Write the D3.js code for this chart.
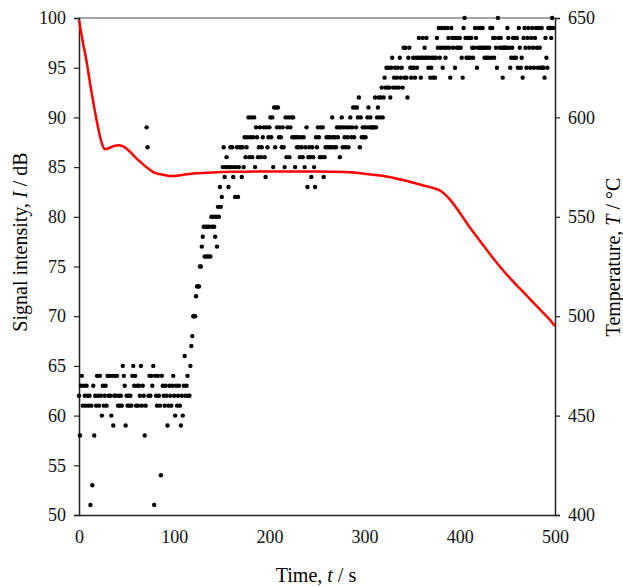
<!DOCTYPE html>
<html>
<head>
<meta charset="utf-8">
<script src="https://cdn.jsdelivr.net/npm/d3@7"></script>
<style>
  body { margin: 0; background: #fff; }
  text { font-family: "Liberation Serif", "Times New Roman", serif; }
</style>
</head>
<body>
<div class="chart"></div>
<script>
// signal intensity, one sample per second from t = 0 s
const intensity = [
  62,58,63,64,61,63,62,61,63,62,
  61,62,51,61,53,63,58,62,61,64,
  62,61,64,62,60,63,61,62,63,61,
  64,62,64,62,60,64,59,62,64,62,
  64,61,62,61,62,61,65,64,63,59,
  62,61,62,61,62,61,64,65,63,64,
  61,63,61,63,62,65,61,63,62,58,
  61,89,87,62,64,62,64,63,65,51,
  64,62,61,64,62,61,54,64,63,62,
  61,63,62,59,61,63,62,61,63,64,
  62,60,63,61,62,63,61,59,62,60,
  63,66,62,63,64,62,62,65,67,68,
  70,70,70,72,73,73,73,75,75,77,
  78,79,76,79,76,79,76,79,76,80,
  79,80,79,78,80,77,81,80,83,81,
  82,85,87,84,85,86,85,83,85,87,
  85,87,84,85,82,85,87,82,85,87,
  87,84,87,85,88,86,87,88,90,86,
  88,90,86,88,90,85,89,88,86,87,
  89,86,87,88,89,86,84,89,87,88,
  89,90,88,90,85,91,87,91,89,91,
  88,89,88,87,89,87,85,90,86,89,
  90,86,89,90,88,90,88,85,88,87,
  88,87,86,88,87,86,88,85,87,89,
  83,86,87,86,84,87,86,85,83,88,
  87,89,88,86,89,86,89,84,86,87,
  88,87,88,87,88,87,90,88,87,88,
  87,89,88,89,86,89,90,87,89,88,
  87,89,88,87,89,90,88,89,91,88,
  91,89,91,90,92,87,90,88,89,88,
  89,88,89,90,91,89,90,89,89,89,
  89,92,89,90,91,92,90,92,93,90,
  92,94,93,95,93,95,93,92,95,96,
  93,94,95,93,94,95,93,96,94,95,
  93,97,94,97,94,92,96,97,95,94,
  95,96,95,94,96,95,96,98,96,94,
  96,98,96,97,96,98,96,95,96,94,
  95,96,94,96,94,96,98,97,99,96,
  97,99,95,97,99,96,97,99,98,97,
  94,99,98,97,98,95,98,97,98,97,
  98,97,96,94,99,100,98,96,98,96,
  98,96,98,97,96,97,99,98,95,97,
  99,97,99,97,99,97,96,97,96,97,
  96,97,99,96,99,98,96,98,97,95,
  100,98,97,98,97,94,97,97,97,97,
  99,98,97,95,96,97,98,96,98,96,
  98,95,99,97,95,96,94,98,99,97,
  95,98,99,97,95,98,99,97,95,98,
  99,97,95,99,97,95,99,95,95,94,
  98,96,95,99,99,99,98,100,99
];

// temperature curve
const tempTime = [0,4,8,12,16,20,24,27,31,36,42,48,54,60,66,72,78,84,90,96,100,110,120,140,160,200,250,280,300,320,340,360,372,380,390,400,410,421,432,442,452,463,474,484,495,500];
const tempValue = [649,638,628,616,605,595,587,584,584.5,585.5,586,585,582.5,579.5,577,574.5,572.5,571.5,571,570.5,570.5,571.2,571.8,572.3,572.6,572.8,572.8,572.5,571.7,570.5,568.5,566,564.5,563,558.5,552,545,538,531,525,519.5,514,508.5,503.5,498,495];

const xTicks = [0,100,200,300,400,500];
const yTicks = [50,55,60,65,70,75,80,85,90,95,100];
const tTicks = [400,450,500,550,600,650];

const width = 623;
const height = 586;
const plotLeft = 79, plotRight = 555, plotTop = 18, plotBottom = 515;

const svg = d3.select('.chart').append('svg')
    .attr('width', width)
    .attr('height', height)

const x = d3.scaleLinear().domain([0, 500]).range([plotLeft, plotRight]);
const y = d3.scaleLinear().domain([50, 100]).range([plotBottom, plotTop]);
const yT = d3.scaleLinear().domain([400, 650]).range([plotBottom, plotTop]);

// frame
svg.append('line')
    .attr('x1', plotLeft).attr('x2', plotRight)
    .attr('y1', plotTop).attr('y2', plotTop)
    .attr('stroke', '#888').attr('stroke-width', 1.5)

const fontSize = 18;
const titleSize = 20;

svg.append('g')
    .attr('transform', `translate(${plotLeft},0)`)
    .call(d3.axisLeft(y).tickValues(yTicks).tickSize(5).tickPadding(8))
svg.append('g')
    .attr('transform', `translate(${plotRight},0)`)
    .call(d3.axisRight(yT).tickValues(tTicks).tickSize(5).tickPadding(8))
svg.append('g')
    .attr('transform', `translate(0,${plotBottom})`)
    .call(d3.axisBottom(x).tickValues(xTicks).tickSize(0).tickPadding(15))

svg.selectAll('.domain').attr('stroke', '#222').attr('stroke-width', 1.5)
svg.selectAll('.tick line').attr('stroke', '#222').attr('stroke-width', 1.2)
svg.selectAll('.tick text')
    .attr('font-size', fontSize)
    .attr('font-family', '"Liberation Serif", serif')
    .attr('fill', '#111')

// dots
svg.selectAll('circle')
    .data(intensity)
    .enter()
    .append('circle')
    .attr('cx', (d, i) => x(i))
    .attr('cy', d => y(d))
    .attr('r', 2.2)
    .attr('fill', '#000')

// temperature line
const line = d3.line()
    .x((d, i) => x(tempTime[i]))
    .y(d => yT(d))
    .curve(d3.curveMonotoneX)

svg.append('path')
    .datum(tempValue)
    .attr('d', line)
    .attr('fill', 'none')
    .attr('stroke', '#ff0000')
    .attr('stroke-width', 2.5)

// axis titles
const yLabel = svg.append('text')
    .attr('transform', 'translate(27,242) rotate(-90)')
    .attr('text-anchor', 'middle')
    .attr('font-size', titleSize)
yLabel.append('tspan').text('Signal intensity, ')
yLabel.append('tspan').attr('font-style', 'italic').text('I')
yLabel.append('tspan').text(' / dB')

const tLabel = svg.append('text')
    .attr('transform', 'translate(620,257) rotate(-90)')
    .attr('text-anchor', 'middle')
    .attr('font-size', titleSize)
tLabel.append('tspan').text('Temperature, ')
tLabel.append('tspan').attr('font-style', 'italic').text('T')
tLabel.append('tspan').text(' / °C')

const xLabel = svg.append('text')
    .attr('x', 316)
    .attr('y', 582)
    .attr('text-anchor', 'middle')
    .attr('font-size', titleSize)
xLabel.append('tspan').text('Time, ')
xLabel.append('tspan').attr('font-style', 'italic').text('t')
xLabel.append('tspan').text(' / s')
</script>
</body>
</html>
